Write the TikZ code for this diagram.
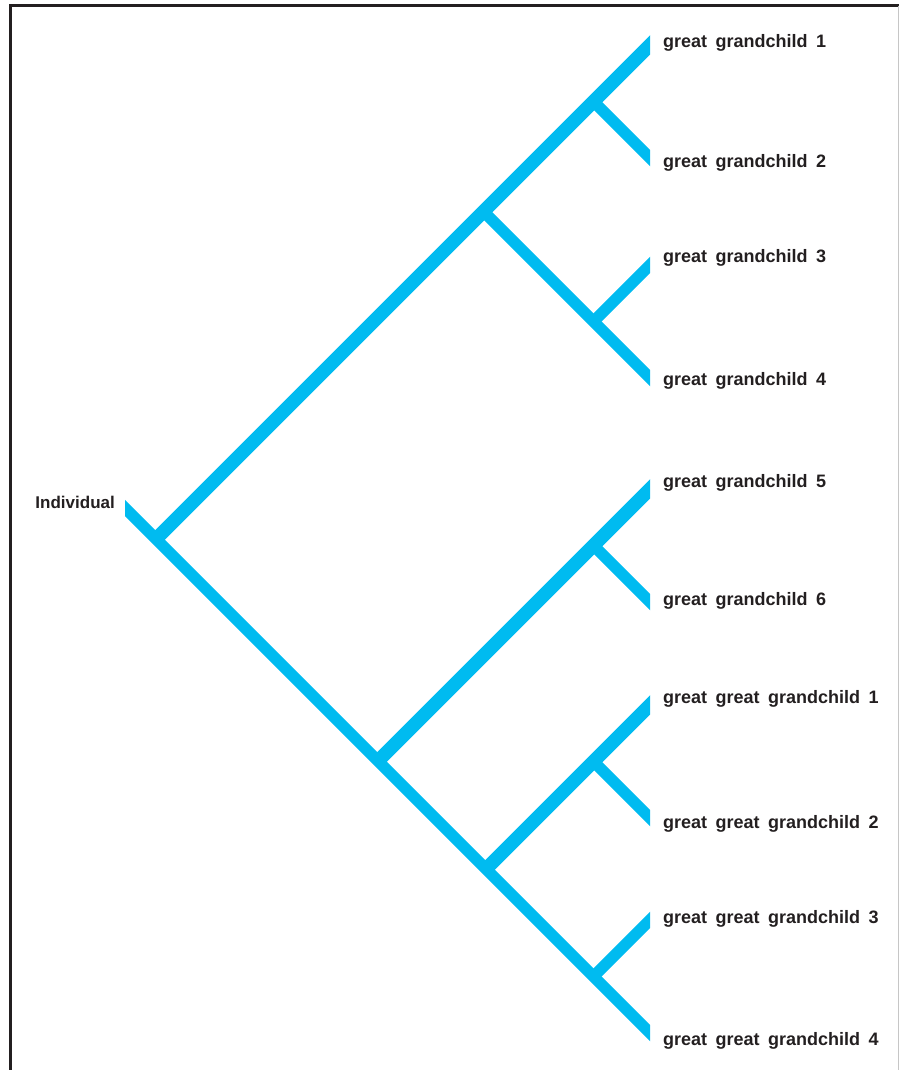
\documentclass[tikz,border=0pt]{standalone}
\usepackage{fontspec}
\setmainfont[WordSpace=1.7]{Liberation Sans}
\usepackage{tikz}
\usetikzlibrary{positioning}
\definecolor{treeblue}{RGB}{0,187,240}
\definecolor{inkgray}{HTML}{231F20}

\begin{document}
\begin{tikzpicture}[x=1pt, y=-1pt,
    limb/.style={treeblue, line width=13.5pt},
    twig/.style={treeblue, line width=11.5pt},
    lbl/.style={anchor=west, inner sep=0pt, text=inkgray, font=\bfseries\fontsize{18}{20}\selectfont}]
  \useasboundingbox (0,0) rectangle (901,1070);
  % frame
  \draw[line width=3.4pt, inkgray] (10.7,1070) -- (10.7,5.7) -- (899,5.7);
  \draw[line width=1pt, gray!45] (898.5,5.7) -- (898.5,1070);
  % junctions
  \coordinate (stub) at (115,498);
  \coordinate (R) at (156,539);
  \coordinate (A) at (483.5,211.5);
  \coordinate (B) at (593.5,101.5);
  \coordinate (C) at (593.5,321.5);
  \coordinate (D) at (378,761);
  \coordinate (E) at (593.5,545.5);
  \coordinate (F) at (486,869);
  \coordinate (G) at (593.5,761.5);
  \coordinate (H) at (593.5,976.5);
  % leaf ends (cut off at the clip)
  \coordinate (e1) at (660,35);
  \coordinate (e2) at (660,168);
  \coordinate (e3) at (660,255);
  \coordinate (e4) at (660,388);
  \coordinate (e5) at (660,479);
  \coordinate (e6) at (660,612);
  \coordinate (f1) at (660,695);
  \coordinate (f2) at (660,828);
  \coordinate (f3) at (660,910);
  \coordinate (f4) at (660,1043);
  % tree
  \begin{scope}
    \clip (125,0) rectangle (650,1070);
    \draw[twig] (stub) -- (D) -- (F) -- (H) -- (f4);
    \draw[limb] (R) -- (A) -- (B) -- (e1);
    \draw[twig] (B) -- (e2);
    \draw[twig] (A) -- (C) -- (e4);
    \draw[twig] (C) -- (e3);
    \draw[limb] (D) -- (E) -- (e5);
    \draw[twig] (E) -- (e6);
    \draw[limb] (F) -- (G) -- (f1);
    \draw[twig] (G) -- (f2);
    \draw[twig] (H) -- (f3);
  \end{scope}
  % labels
  \node[lbl, anchor=east, font=\bfseries\fontsize{17}{20}\selectfont] (ind) at (115,502) {Individual};
  \node[lbl] (g1) at (663,43) {great grandchild 1};
  \node[lbl] (g2) at (663,163) {great grandchild 2};
  \node[lbl] (g3) at (663,258) {great grandchild 3};
  \node[lbl] (g4) at (663,381) {great grandchild 4};
  \node[lbl] (g5) at (663,483) {great grandchild 5};
  \node[lbl] (g6) at (663,601) {great grandchild 6};
  \node[lbl] (gg1) at (663,699) {great great grandchild 1};
  \node[lbl] (gg2) at (663,824) {great great grandchild 2};
  \node[lbl] (gg3) at (663,919) {great great grandchild 3};
  \node[lbl] (gg4) at (663,1041) {great great grandchild 4};
\end{tikzpicture}
\end{document}
